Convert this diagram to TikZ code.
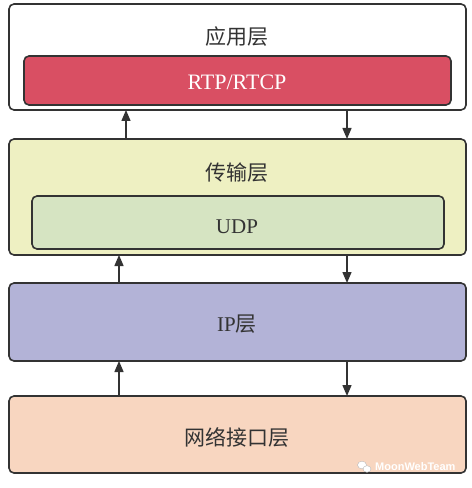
\documentclass[tikz,border=0pt]{standalone}
\usepackage{fontspec}
\setmainfont{Liberation Serif}
\newfontfamily\cjk{Noto Sans CJK SC}
\newfontfamily\wmfont{Liberation Sans}
\usetikzlibrary{arrows.meta}
\definecolor{edge}{HTML}{333333}
\definecolor{txt}{HTML}{333333}
\definecolor{redfill}{HTML}{D94F63}
\definecolor{yelfill}{HTML}{EEF0C2}
\definecolor{grnfill}{HTML}{D6E4C2}
\definecolor{purfill}{HTML}{B3B3D7}
\definecolor{orgfill}{HTML}{F8D6C0}
\tikzset{
  layer/.style={draw=edge, line width=1.6bp, rounded corners=5bp, inner sep=0pt},
  lbl/.style={text=txt, font=\fontsize{21bp}{24bp}\selectfont, inner sep=0pt, anchor=center},
  flow/.style={draw=edge, line width=1.4bp, -{Triangle[length=11bp,width=9bp]}},
}
\begin{document}
\begin{tikzpicture}[x=1bp,y=-1bp]
\useasboundingbox (0,0) rectangle (472,488);
\fill[white] (0,0) rectangle (472,488);
% boxes
\draw[layer, fill=white] (9,4) rectangle (466,110);
\draw[layer, fill=redfill] (24,56) rectangle (451,105);
\draw[layer, fill=yelfill] (9,139) rectangle (466,255);
\draw[layer, fill=grnfill] (32,196) rectangle (444,249);
\draw[layer, fill=purfill] (9,283) rectangle (466,361);
\draw[layer, fill=orgfill] (9,396) rectangle (466,473);
% named anchors
\coordinate (b1) at (237,110);
\coordinate (t2) at (237,139);
\coordinate (b2) at (237,255);
\coordinate (t3) at (237,283);
\coordinate (b3) at (237,361);
\coordinate (t4) at (237,396);
% labels
\node[lbl] (app) at (237,37) {\cjk 应用层};
\node[lbl, text=white, font=\fontsize{22bp}{24bp}\selectfont] (rtp) at (237,82) {RTP/RTCP};
\node[lbl] (trans) at (237,173) {\cjk 传输层};
\node[lbl] (udp) at (237,227) {UDP};
\node[lbl] (ip) at (237,324) {IP{\cjk 层}};
\node[lbl] (net) at (237,437) {\cjk 网络接口层};
% arrows
\draw[flow] (t2 -| 126,0) -- (b1 -| 126,0);
\draw[flow] (b1 -| 347,0) -- (t2 -| 347,0);
\draw[flow] (t3 -| 119,0) -- (b2 -| 119,0);
\draw[flow] (b2 -| 347,0) -- (t3 -| 347,0);
\draw[flow] (t4 -| 119,0) -- (b3 -| 119,0);
\draw[flow] (b3 -| 347,0) -- (t4 -| 347,0);
% watermark
\fill[white, draw=gray!60, line width=0.3bp] (362,465) ellipse (4.5bp and 3.8bp);
\fill[white, draw=gray!60, line width=0.3bp] (367,469) ellipse (4bp and 3.3bp);
\node[text=white, font=\wmfont\bfseries\fontsize{11bp}{12bp}\selectfont, anchor=west, inner sep=0pt] (wm) at (375,467) {MoonWebTeam};
\end{tikzpicture}
\end{document}
